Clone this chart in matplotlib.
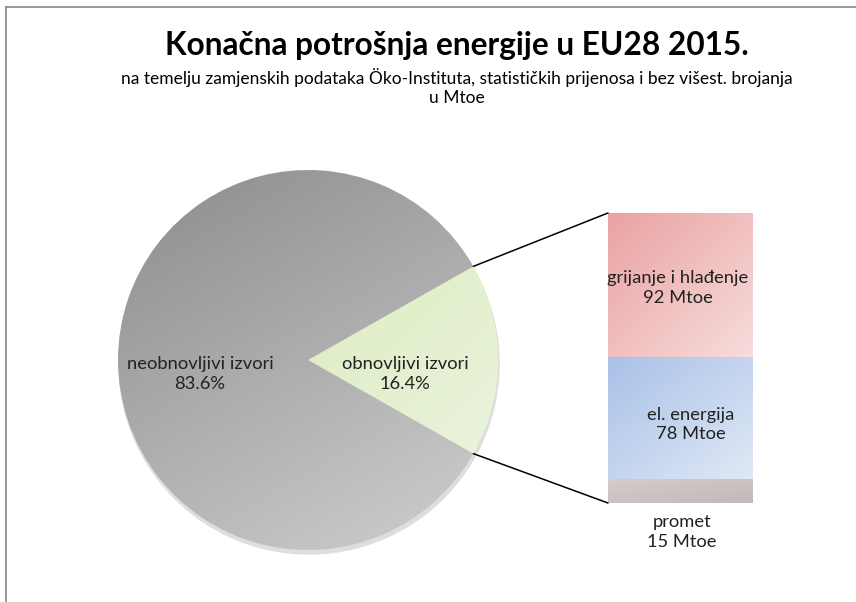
import numpy as np
import matplotlib
matplotlib.use('Agg')
import matplotlib.pyplot as plt
from matplotlib.colors import to_rgb
from matplotlib.patches import ConnectionPatch, Circle

plt.rcParams['font.family'] = ['Lato', 'DejaVu Sans']

# data
pie_labels = ['obnovljivi izvori', 'neobnovljivi izvori']
pie_shares = [16.4, 83.6]
bar_labels = ['promet', 'el. energija', 'grijanje i hlađenje']
bar_values = [15, 78, 92]

title = 'Konačna potrošnja energije u EU28 2015.'
subtitle = ('na temelju zamjenskih podataka Öko-Instituta, statističkih prijenosa i bez višest. brojanja\n'
            'u Mtoe')


def grad_fill(ax, patch, c1, c2, extent, angle=-45):
    # linear gradient from c1 to c2 along angle (deg), clipped to patch
    n = 200
    xx, yy = np.meshgrid(np.linspace(0, 1, n), np.linspace(1, 0, n))
    a = np.deg2rad(angle)
    t = xx * np.cos(a) + yy * np.sin(a)
    t = (t - t.min()) / (t.max() - t.min())
    c1, c2 = np.array(to_rgb(c1)), np.array(to_rgb(c2))
    img = c1[None, None, :] * (1 - t[..., None]) + c2[None, None, :] * t[..., None]
    im = ax.imshow(img, extent=extent, aspect='auto', zorder=patch.get_zorder(),
                   interpolation='bilinear')
    im.set_clip_path(patch)


W, H = 856, 602
fig = plt.figure(figsize=(W / 100, H / 100), dpi=100)
ax = fig.add_axes([0, 0, 1, 1])

cx, cy, r = 308, 242, 190
start = -pie_shares[0] * 3.6 / 2
fs = 13.2

# soft shadow under the pie
ax.add_patch(Circle((cx + 1, cy - 4), r, color='#dedede', zorder=0))
wedges, _ = ax.pie(pie_shares, center=(cx, cy), radius=r, startangle=start,
                   colors=['none', 'none'], wedgeprops=dict(linewidth=0))
ext = [cx - r, cx + r, cy - r, cy + r]
grad_fill(ax, wedges[0], '#d2e8ab', '#eef5e4', ext)
grad_fill(ax, wedges[1], '#8c8c8c', '#d0d0d0', ext, angle=-60)

ax.set_xlim(0, W)
ax.set_ylim(0, H)
ax.set_aspect('equal')
ax.axis('off')

ax.text(200, H - 374, f'{pie_labels[1]}\n{pie_shares[1]}%', ha='center', va='center',
        fontsize=fs, color='#222222', linespacing=1.25)
ax.text(405, H - 374, f'{pie_labels[0]}\n{pie_shares[0]}%', ha='center', va='center',
        fontsize=fs, color='#222222', linespacing=1.25)

# stacked bar of the renewable part
ax2 = fig.add_axes([608 / W, 99 / H, 145 / W, 290 / H])
bottoms = np.concatenate([[0], np.cumsum(bar_values)[:-1]])
total = sum(bar_values)
bars = ax2.bar(0, bar_values, bottom=bottoms, width=1, color='none', linewidth=0)
bar_cols = [('#d6cbcb', '#c4b9b9'), ('#a9c1e8', '#e0e8f5'), ('#e9a2a2', '#f8dcdc')]
for b, (c1, c2), y0, v in zip(bars, bar_cols, bottoms, bar_values):
    grad_fill(ax2, b, c1, c2, [-0.5, 0.5, y0, y0 + v])
# shadow below the bar
ax2.bar(0.01, 2.5, bottom=-2.5, width=1, color='#dddddd', linewidth=0, zorder=0)
ax2.set_xlim(-0.5, 0.5)
ax2.set_ylim(0, total)
ax2.axis('off')

ax2.text(-0.02, bottoms[2] + bar_values[2] * 0.48, f'{bar_labels[2]}\n{bar_values[2]} Mtoe',
         ha='center', va='center', fontsize=fs, color='#222222', linespacing=1.25,
         clip_on=False)
ax2.text(0.07, bottoms[1] + bar_values[1] * 0.45, f'{bar_labels[1]}\n{bar_values[1]} Mtoe',
         ha='center', va='center', fontsize=fs, color='#222222', linespacing=1.25)
ax2.text(0.01, -18.5, f'{bar_labels[0]}\n{bar_values[0]} Mtoe',
         ha='center', va='center', fontsize=fs, color='#222222', linespacing=1.25,
         clip_on=False)

# connector lines
half = np.deg2rad(pie_shares[0] * 3.6 / 2)
for sgn, yb in [(1, total), (-1, 0)]:
    xa = cx + r * np.cos(half)
    ya = cy + sgn * r * np.sin(half)
    con = ConnectionPatch(xyA=(xa, ya), coordsA=ax.transData, xyB=(-0.5, yb),
                          coordsB=ax2.transData, color='black', linewidth=1.1)
    fig.add_artist(con)

# titles
fig.text(457 / W, 1 - 45 / H, title, ha='center', va='center', fontsize=22.8,
         fontweight='bold', color='black')
fig.text(457 / W, 1 - 87 / H, subtitle, ha='center', va='center', fontsize=12.5,
         color='black', linespacing=1.3)

# frame lines (top and left)
fig.add_artist(plt.Line2D([6 / W, 1], [1 - 7 / H, 1 - 7 / H], transform=fig.transFigure,
                          color='#888888', linewidth=1.2))
fig.add_artist(plt.Line2D([6 / W, 6 / W], [0, 1 - 7 / H], transform=fig.transFigure,
                          color='#888888', linewidth=1.2))

fig.savefig('out.png', dpi=100)
